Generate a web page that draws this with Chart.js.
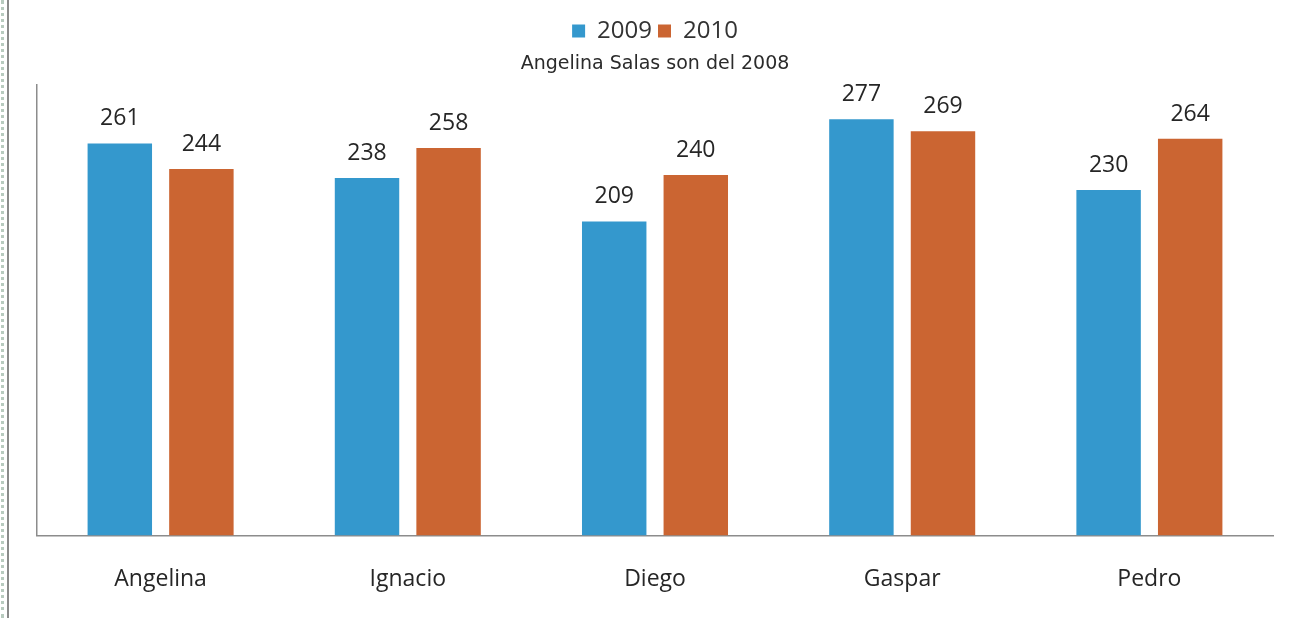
<!DOCTYPE html>
<html>
<head>
<meta charset="utf-8">
<script src="https://cdn.jsdelivr.net/npm/chart.js@4/dist/chart.umd.min.js"></script>
<style>
    html, body { margin: 0; padding: 0; background: #fff; }
    body { width: 1296px; height: 618px; position: relative; overflow: hidden; }
    #dots { position: absolute; left: 1px; top: 0; height: 618px; border-left: 3px dotted #b8cbbf; }
    #edge { position: absolute; left: 7px; top: 0; width: 2px; height: 618px; background: #8a8a8a; }
    #wrap { position: absolute; left: 0; top: 0; }
</style>
</head>
<body>
<div id="dots"></div>
<div id="edge"></div>
<div id="wrap"><canvas id="chart" width="1296" height="618"></canvas></div>
<script>
const categories = ["Angelina", "Ignacio", "Diego", "Gaspar", "Pedro"];
const values2009 = [261, 238, 209, 277, 230];
const values2010 = [244, 258, 240, 269, 264];
const seriesNames = ["2009", "2010"];
const chartTitle = "Angelina Salas son del 2008";

const FONT = "'Open Sans', 'DejaVu Sans', sans-serif";

// etiquetas de valor encima de cada barra
const valueLabels = {
    id: "valueLabels",
    afterDatasetsDraw(chart) {
        const ctx = chart.ctx;
        ctx.save();
        ctx.font = `23px ${FONT}`;
        ctx.fillStyle = "#262626";
        ctx.textAlign = "center";
        ctx.textBaseline = "alphabetic";
        chart.data.datasets.forEach((ds, i) => {
            chart.getDatasetMeta(i).data.forEach((bar, j) => {
                ctx.fillText(String(ds.data[j]), bar.x, bar.y - 18);
            });
        });
        ctx.restore();
    }
};

new Chart(document.getElementById("chart"), {
    type: "bar",
    data: {
        labels: categories,
        datasets: [
            { label: seriesNames[0], data: values2009, backgroundColor: "#3498cd", barPercentage: 0.79, categoryPercentage: 0.66 },
            { label: seriesNames[1], data: values2010, backgroundColor: "#cb6532", barPercentage: 0.79, categoryPercentage: 0.66 }
        ]
    },
    options: {
        responsive: false,
        animation: false,
        layout: { padding: { top: 13, left: 37, right: 23, bottom: -5 } },
        plugins: {
            legend: {
                position: "top",
                labels: {
                    boxWidth: 13,
                    boxHeight: 13,
                    padding: 6,
                    color: "#333",
                    font: { family: FONT, size: 24 }
                }
            },
            title: {
                display: true,
                text: chartTitle,
                color: "#2b2b2b",
                font: { family: "'DejaVu Sans', sans-serif", size: 19, weight: "normal" },
                padding: { top: 0, bottom: 9 },
                weight: 500
            },
            tooltip: { enabled: false }
        },
        scales: {
            x: {
                grid: { display: false, drawTicks: false },
                border: { color: "#8c8c8c", width: 1.5 },
                ticks: { color: "#262626", font: { family: FONT, size: 23 }, padding: 30 }
            },
            y: {
                min: 0,
                max: 300,
                grid: { display: false, drawTicks: false },
                border: { color: "#8c8c8c", width: 1.5 },
                ticks: { display: false }
            }
        }
    },
    plugins: [valueLabels]
});
</script>
</body>
</html>
